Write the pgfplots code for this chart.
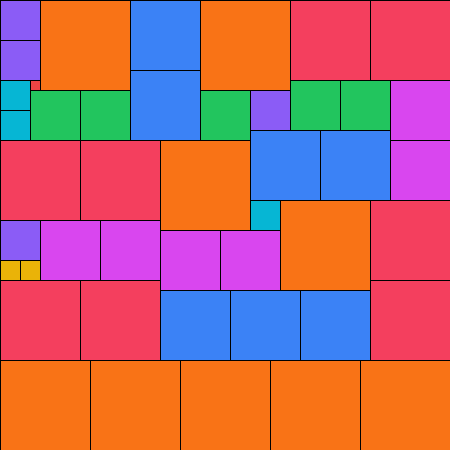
\documentclass[border=0pt]{standalone}
\usepackage{pgfplots}
\pgfplotsset{compat=1.18}
\definecolor{cpurple}{HTML}{8B5CF6}
\definecolor{corange}{HTML}{F97316}
\definecolor{cblue}{HTML}{3B82F6}
\definecolor{crose}{HTML}{F43F5E}
\definecolor{cred}{HTML}{EF4444}
\definecolor{cgreen}{HTML}{22C55E}
\definecolor{ccyan}{HTML}{06B6D4}
\definecolor{cmagenta}{HTML}{D946EF}
\definecolor{cyellow}{HTML}{EAB308}
% one tile: colour, x1, y1, x2, y2 (pixel units, y downward)
\newcommand{\tile}[5]{\addplot[fill=#1, draw=black, line width=0.75pt]
  coordinates {(#2,#3) (#4,#3) (#4,#5) (#2,#5)} -- cycle;}
\begin{document}
\begin{tikzpicture}
\begin{axis}[
  width=12cm, height=12cm, scale only axis,
  xmin=0, xmax=450, ymin=0, ymax=450, y dir=reverse,
  hide axis, clip=true,
]
  % top block
  \tile{cpurple}{0}{0}{40}{40}
  \tile{cpurple}{0}{40}{40}{80}
  \tile{cred}{30}{80}{40}{90}
  \tile{ccyan}{0}{80}{30}{110}
  \tile{ccyan}{0}{110}{30}{140}
  \tile{corange}{40}{0}{130}{90}
  \tile{cgreen}{30}{90}{80}{140}
  \tile{cgreen}{80}{90}{130}{140}
  \tile{cblue}{130}{0}{200}{70}
  \tile{cblue}{130}{70}{200}{140}
  \tile{corange}{200}{0}{290}{90}
  \tile{cgreen}{200}{90}{250}{140}
  \tile{cpurple}{250}{90}{290}{130}
  \tile{crose}{290}{0}{370}{80}
  \tile{crose}{370}{0}{450}{80}
  \tile{cgreen}{290}{80}{340}{130}
  \tile{cgreen}{340}{80}{390}{130}
  \tile{cmagenta}{390}{80}{450}{140}
  \tile{cblue}{250}{130}{320}{200}
  \tile{cblue}{320}{130}{390}{200}
  \tile{cmagenta}{390}{140}{450}{200}
  % middle block
  \tile{crose}{0}{140}{80}{220}
  \tile{crose}{80}{140}{160}{220}
  \tile{corange}{160}{140}{250}{230}
  \tile{ccyan}{250}{200}{280}{230}
  \tile{corange}{280}{200}{370}{290}
  \tile{crose}{370}{200}{450}{280}
  \tile{cpurple}{0}{220}{40}{260}
  \tile{cyellow}{0}{260}{20}{280}
  \tile{cyellow}{20}{260}{40}{280}
  \tile{cmagenta}{40}{220}{100}{280}
  \tile{cmagenta}{100}{220}{160}{280}
  \tile{cmagenta}{160}{230}{220}{290}
  \tile{cmagenta}{220}{230}{280}{290}
  \tile{crose}{0}{280}{80}{360}
  \tile{crose}{80}{280}{160}{360}
  \tile{cblue}{160}{290}{230}{360}
  \tile{cblue}{230}{290}{300}{360}
  \tile{cblue}{300}{290}{370}{360}
  \tile{crose}{370}{280}{450}{360}
  % bottom row
  \tile{corange}{0}{360}{90}{450}
  \tile{corange}{90}{360}{180}{450}
  \tile{corange}{180}{360}{270}{450}
  \tile{corange}{270}{360}{360}{450}
  \tile{corange}{360}{360}{450}{450}
\end{axis}
\end{tikzpicture}
\end{document}
